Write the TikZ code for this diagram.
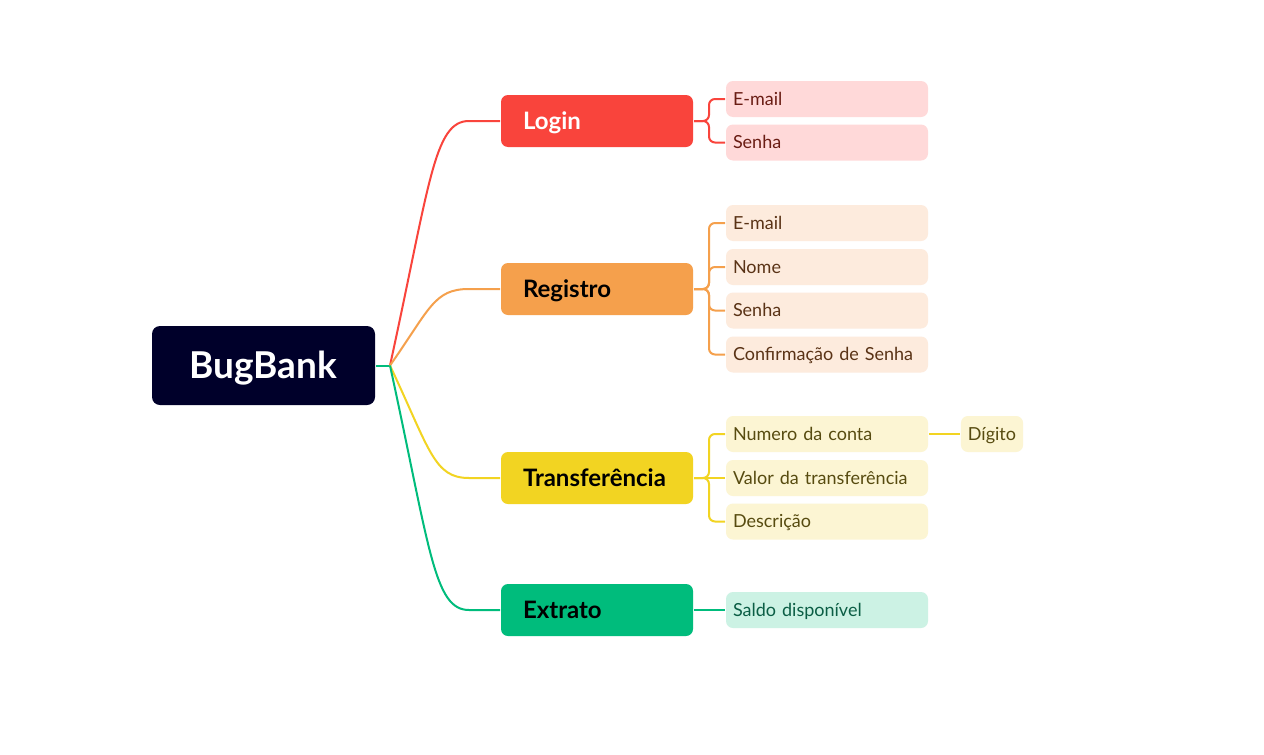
\documentclass[tikz,border=0pt]{standalone}
\usepackage{fontspec}
\setmainfont{Lato}
\definecolor{rootc}{HTML}{00002A}
\definecolor{redc}{HTML}{F9443C}
\definecolor{redl}{HTML}{FFD9D9}
\definecolor{redt}{HTML}{6A1D14}
\definecolor{orac}{HTML}{F5A04C}
\definecolor{oral}{HTML}{FDEBDD}
\definecolor{orat}{HTML}{5A3316}
\definecolor{yelc}{HTML}{F2D422}
\definecolor{yell}{HTML}{FCF5D3}
\definecolor{yelt}{HTML}{574B10}
\definecolor{grnc}{HTML}{00BC7C}
\definecolor{grnl}{HTML}{CCF2E4}
\definecolor{grnt}{HTML}{0B5E45}
\begin{document}
\begin{tikzpicture}[x=1pt,y=-1pt,line width=2pt,
 rootbox/.style={rectangle,rounded corners=8pt,fill=rootc,minimum width=223pt,minimum height=79pt,inner sep=0pt,text=white,text height=26.5pt,text depth=0pt,font=\fontsize{37}{40}\selectfont\bfseries},
 lonebox/.style={rectangle,rounded corners=7pt,minimum height=52pt,inner xsep=22pt,inner ysep=0pt,text width=148pt,text height=17.2pt,text depth=0pt,align=left,font=\fontsize{24}{26}\selectfont\bfseries},
 ltwobox/.style={rectangle,rounded corners=7pt,minimum height=36pt,inner xsep=7pt,inner ysep=0pt,text width=188pt,text height=12.9pt,text depth=0pt,align=left,font=\fontsize{18}{20}\selectfont},
 digbox/.style={rectangle,rounded corners=7pt,minimum height=36pt,minimum width=62pt,inner xsep=7pt,inner ysep=0pt,text height=12.9pt,text depth=0pt,align=center,font=\fontsize{18}{20}\selectfont},
 brk/.style={rounded corners=6pt}
]
\useasboundingbox[fill=white] (0,0) rectangle (1264,755);
% nodes
\node[rootbox] (root) at (263.5,365.5) {BugBank};
\coordinate (j) at (390,365.5);
\node[lonebox,fill=redc,text=white] (login) at (597,121) {Login};
\node[lonebox,fill=orac,text=black] (reg) at (597,289) {Registro};
\node[lonebox,fill=yelc,text=black] (tra) at (597,478) {Transferência};
\node[lonebox,fill=grnc,text=black] (ext) at (597,610) {Extrato};
\node[ltwobox,fill=redl,text=redt] (lmail) at (827,99) {E-mail};
\node[ltwobox,fill=redl,text=redt] (lsen) at (827,142.5) {Senha};
\node[ltwobox,fill=oral,text=orat] (rmail) at (827,223) {E-mail};
\node[ltwobox,fill=oral,text=orat] (rnome) at (827,267) {Nome};
\node[ltwobox,fill=oral,text=orat] (rsen) at (827,310.5) {Senha};
\node[ltwobox,fill=oral,text=orat] (rconf) at (827,354.5) {Confirmação de Senha};
\node[ltwobox,fill=yell,text=yelt] (tnum) at (827,434) {Numero da conta};
\node[ltwobox,fill=yell,text=yelt] (tval) at (827,478) {Valor da transferência};
\node[ltwobox,fill=yell,text=yelt] (tdes) at (827,521.5) {Descrição};
\node[digbox,fill=yell,text=yelt] (tdig) at (992,434) {Dígito};
\node[ltwobox,fill=grnl,text=grnt] (esal) at (827,610) {Saldo disponível};
% connectors
\draw[grnc] (root.east) -- (j);
\draw[redc] (j) .. controls +(40,-183) and +(-35,0) .. ([xshift=-31pt]login.west) -- (login.west);
\draw[orac] (j) .. controls +(40,-57) and +(-35,0) .. ([xshift=-31pt]reg.west) -- (reg.west);
\draw[yelc] (j) .. controls +(40,85) and +(-35,0) .. ([xshift=-31pt]tra.west) -- (tra.west);
\draw[grnc] (j) .. controls +(40,184) and +(-35,0) .. ([xshift=-31pt]ext.west) -- (ext.west);
\draw[redc,brk] (login.east) -- ++(15,0) |- (lmail.west);
\draw[redc,brk] (login.east) -- ++(15,0) |- (lsen.west);
\draw[orac,brk] (reg.east) -- ++(15,0) |- (rmail.west);
\draw[orac,brk] (reg.east) -- ++(15,0) |- (rnome.west);
\draw[orac,brk] (reg.east) -- ++(15,0) |- (rsen.west);
\draw[orac,brk] (reg.east) -- ++(15,0) |- (rconf.west);
\draw[yelc,brk] (tra.east) -- ++(15,0) |- (tnum.west);
\draw[yelc] (tra.east) -- (tval.west);
\draw[yelc,brk] (tra.east) -- ++(15,0) |- (tdes.west);
\draw[yelc] (tnum.east) -- (tdig.west);
\draw[grnc] (ext.east) -- (esal.west);
\end{tikzpicture}
\end{document}
